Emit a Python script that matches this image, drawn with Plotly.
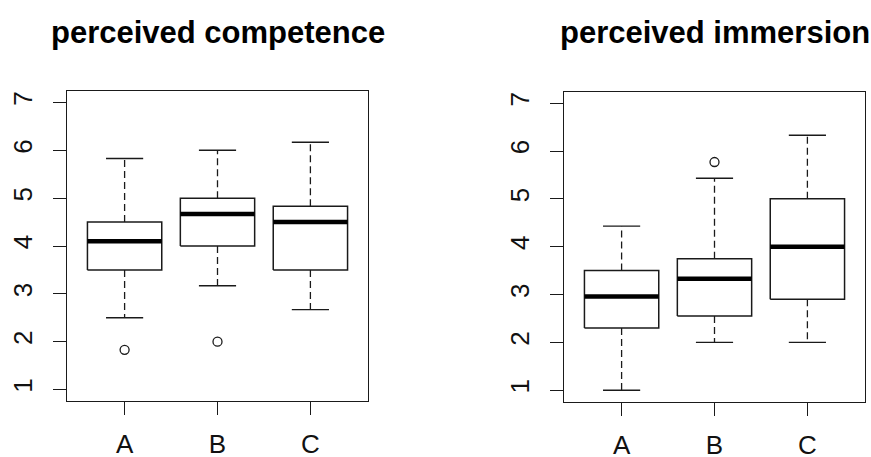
import plotly.graph_objects as go

# ---- data ----
groups = ["A", "B", "C"]

comp_lower = [2.5, 3.17, 2.67]
comp_q1 = [3.5, 4.0, 3.5]
comp_median = [4.1, 4.67, 4.5]
comp_q3 = [4.5, 5.0, 4.83]
comp_upper = [5.83, 6.0, 6.17]
comp_out_group = ["A", "B"]
comp_out_value = [1.83, 2.0]

imm_lower = [1.0, 2.0, 2.0]
imm_q1 = [2.3, 2.55, 2.9]
imm_median = [2.96, 3.33, 4.0]
imm_q3 = [3.5, 3.75, 5.0]
imm_upper = [4.43, 5.43, 6.33]
imm_out_group = ["B"]
imm_out_value = [5.77]

titles = ["perceived competence", "perceived immersion"]
y_ticks = [1, 2, 3, 4, 5, 6, 7]

# ---- style ----
INK = "#1a1a1a"
BOXW = 0.4      # half box width (boxwex 0.8)
CAPW = 0.2      # half staple width
FONT = "Liberation Sans, Arial, sans-serif"

fig = go.Figure()


def add_panel(lower, q1, med, q3, upper, out_g, out_v, xa, ya):
    pos = [i + 1 for i in range(len(groups))]
    # whiskers (dashed)
    wx, wy = [], []
    for p, lo, a, b, up in zip(pos, lower, q1, q3, upper):
        wx += [p, p, None, p, p, None]
        wy += [b, up, None, a, lo, None]
    fig.add_trace(go.Scatter(x=wx, y=wy, mode="lines", xaxis=xa, yaxis=ya,
                             line=dict(color=INK, width=1.3, dash="7px,4px"),
                             hoverinfo="skip", showlegend=False))
    # staples
    cx, cy = [], []
    for p, lo, up in zip(pos, lower, upper):
        cx += [p - CAPW, p + CAPW, None, p - CAPW, p + CAPW, None]
        cy += [up, up, None, lo, lo, None]
    fig.add_trace(go.Scatter(x=cx, y=cy, mode="lines", xaxis=xa, yaxis=ya,
                             line=dict(color=INK, width=1.4),
                             hoverinfo="skip", showlegend=False))
    # boxes
    bx, by = [], []
    for p, a, b in zip(pos, q1, q3):
        bx += [p - BOXW, p + BOXW, p + BOXW, p - BOXW, p - BOXW, None]
        by += [a, a, b, b, a, None]
    fig.add_trace(go.Scatter(x=bx, y=by, mode="lines", xaxis=xa, yaxis=ya,
                             line=dict(color=INK, width=1.5),
                             hoverinfo="skip", showlegend=False))
    # medians
    mx, my = [], []
    for p, m in zip(pos, med):
        mx += [p - BOXW, p + BOXW, None]
        my += [m, m, None]
    fig.add_trace(go.Scatter(x=mx, y=my, mode="lines", xaxis=xa, yaxis=ya,
                             line=dict(color="#000", width=4.5),
                             hoverinfo="skip", showlegend=False))
    # outliers
    ox = [groups.index(g) + 1 for g in out_g]
    fig.add_trace(go.Scatter(x=ox, y=out_v, mode="markers", xaxis=xa, yaxis=ya,
                             marker=dict(symbol="circle-open", size=9,
                                         color=INK, line=dict(width=1.3)),
                             hoverinfo="skip", showlegend=False))


add_panel(comp_lower, comp_q1, comp_median, comp_q3, comp_upper,
          comp_out_group, comp_out_value, "x", "y")
add_panel(imm_lower, imm_q1, imm_median, imm_q3, imm_upper,
          imm_out_group, imm_out_value, "x2", "y2")

W, H = 871, 457

axis_common = dict(showline=True, mirror=True, linecolor=INK, linewidth=1.3,
                   ticks="outside", ticklen=13, tickwidth=1.3, tickcolor=INK,
                   showgrid=False, zeroline=False, automargin=False,
                   tickfont=dict(family=FONT, size=26, color="#111"))

xdom1 = [67 / W, 368 / W]
xdom2 = [564 / W, 865 / W]
ydom1 = [(H - 401) / H, (H - 91) / H]
ydom2 = [(H - 401.7) / H, (H - 91.7) / H]

fig.update_layout(
    width=W, height=H,
    margin=dict(l=0, r=0, t=0, b=0),
    paper_bgcolor="white", plot_bgcolor="white",
    xaxis=dict(domain=xdom1, range=[0.38, 3.62], tickvals=[1, 2, 3],
               ticktext=groups, anchor="y", ticklabelstandoff=7,
               **axis_common),
    yaxis=dict(domain=ydom1, range=[0.76, 7.24], tickvals=y_ticks,
               tickangle=-90, anchor="x", ticklabelstandoff=10,
               **axis_common),
    xaxis2=dict(domain=xdom2, range=[0.38, 3.62], tickvals=[1, 2, 3],
                ticktext=groups, anchor="y2", ticklabelstandoff=7,
                **axis_common),
    yaxis2=dict(domain=ydom2, range=[0.76, 7.24], tickvals=y_ticks,
                tickangle=-90, anchor="x2", ticklabelstandoff=10,
                **axis_common),
    showlegend=False,
)

for t, dom in zip(titles, [xdom1, xdom2]):
    fig.add_annotation(text="<b>" + t + "</b>", xref="paper", yref="paper",
                       x=(dom[0] + dom[1]) / 2, y=1 - 32 / H,
                       xanchor="center", yanchor="middle", showarrow=False,
                       font=dict(family=FONT, size=31, color="#000"))

fig.write_html(
    "out.html",
    config={"displayModeBar": False},
    post_script="document.body.style.margin='0';"
                "document.body.style.overflow='hidden';",
)
